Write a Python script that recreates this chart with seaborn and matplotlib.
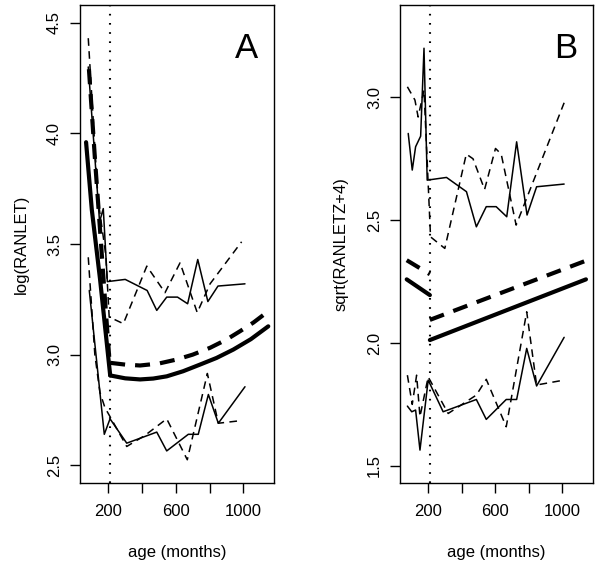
import matplotlib
matplotlib.use("Agg")
import matplotlib.pyplot as plt
import seaborn as sns

sns.set_style("ticks")
plt.rcParams["font.family"] = ["Liberation Sans", "DejaVu Sans"]
plt.rcParams.update({"text.color": "black", "axes.labelcolor": "black",
                     "xtick.color": "black", "ytick.color": "black"})

# ---------------- panel A : log(RANLET) ----------------
a_up_solid_x = [81, 148, 170, 194, 300, 430, 487, 546, 610, 670, 730, 790, 850, 1010]
a_up_solid_y = [4.30, 3.60, 3.66, 3.33, 3.34, 3.29, 3.20, 3.26, 3.26, 3.23, 3.43, 3.24, 3.31, 3.32]
a_up_dash_x = [81, 139, 185, 205, 289, 428, 536, 625, 727, 803, 990]
a_up_dash_y = [4.43, 3.70, 3.45, 3.17, 3.14, 3.40, 3.28, 3.415, 3.19, 3.32, 3.51]
a_lo_solid_x = [87, 176, 210, 309, 487, 546, 674, 733, 793, 852, 1010]
a_lo_solid_y = [3.29, 2.64, 2.71, 2.60, 2.65, 2.565, 2.64, 2.64, 2.82, 2.69, 2.855]
a_lo_dash_x = [81, 120, 150, 180, 210, 309, 417, 546, 668, 787, 852, 965]
a_lo_dash_y = [3.44, 3.00, 2.83, 2.76, 2.72, 2.585, 2.635, 2.71, 2.525, 2.915, 2.69, 2.70]

a_fit_solid_pre_x = [68, 102, 151, 211]
a_fit_solid_pre_y = [3.96, 3.655, 3.34, 2.906]
a_fit_solid_post_x = [211, 300, 388, 466, 546, 643, 743, 841, 941, 1045, 1148]
a_fit_solid_post_y = [2.906, 2.893, 2.888, 2.892, 2.902, 2.925, 2.955, 2.985, 3.023, 3.07, 3.128]
a_fit_dash_pre_x = [85, 121, 139, 180, 205]
a_fit_dash_pre_y = [4.29, 3.88, 3.69, 3.25, 2.99]
a_fit_dash_post_x = [211, 300, 388, 500, 605, 700, 803, 900, 981, 1060, 1148]
a_fit_dash_post_y = [2.963, 2.955, 2.951, 2.96, 2.978, 3.0, 3.031, 3.068, 3.106, 3.145, 3.196]

# ---------------- panel B : sqrt(RANLETZ+4) ----------------
b_up_solid_x = [81, 105, 125, 155, 175, 194, 309, 428, 487, 546, 605, 668, 727, 789, 846, 1010]
b_up_solid_y = [2.853, 2.704, 2.799, 2.842, 3.20, 2.663, 2.674, 2.616, 2.473, 2.555, 2.555,
                2.514, 2.819, 2.521, 2.636, 2.647]
b_up_dash_x = [76, 121, 140, 175, 190, 214, 299, 427, 467, 536, 601, 635, 724, 1010]
b_up_dash_y = [3.043, 2.989, 2.92, 3.03, 2.80, 2.432, 2.385, 2.769, 2.75, 2.625, 2.792, 2.769, 2.48, 2.978]
b_lo_solid_x = [76, 102, 125, 151, 200, 289, 487, 546, 665, 727, 787, 846, 1010]
b_lo_solid_y = [1.743, 1.72, 1.727, 1.564, 1.849, 1.72, 1.77, 1.689, 1.77, 1.77, 1.978, 1.825, 2.023]
b_lo_dash_x = [76, 105, 131, 151, 200, 319, 487, 546, 665, 787, 846, 1010]
b_lo_dash_y = [1.869, 1.75, 1.869, 1.70, 1.862, 1.713, 1.788, 1.852, 1.659, 2.127, 1.829, 1.849]

b_fit_solid_pre_x = [72, 210]
b_fit_solid_pre_y = [2.259, 2.195]
b_fit_solid_post_x = [210, 1140]
b_fit_solid_post_y = [2.012, 2.259]
b_fit_dash_pre_x = [72, 210]
b_fit_dash_pre_y = [2.337, 2.28]
b_fit_dash_post_x = [210, 1140]
b_fit_dash_post_y = [2.094, 2.335]

cutoff = 212

THIN_DASH = (0, (5, 3.5))
THICK_DASH = (0, (3.6, 2.4))


def draw(ax, x, y, lw, ls):
    sns.lineplot(x=x, y=y, ax=ax, color="black", linewidth=lw, linestyle=ls,
                 sort=False, estimator=None, legend=False)


fig = plt.figure(figsize=(6, 5.67), dpi=100)
axA = fig.add_axes([80 / 600, 1 - 483 / 567, 194 / 600, 478 / 567])
axB = fig.add_axes([400 / 600, 1 - 483 / 567, 193 / 600, 478 / 567])

# panel A
draw(axA, a_up_solid_x, a_up_solid_y, 1.1, "-")
draw(axA, a_up_dash_x, a_up_dash_y, 1.1, THIN_DASH)
draw(axA, a_lo_solid_x, a_lo_solid_y, 1.1, "-")
draw(axA, a_lo_dash_x, a_lo_dash_y, 1.1, THIN_DASH)
draw(axA, a_fit_solid_pre_x, a_fit_solid_pre_y, 3.0, "-")
draw(axA, a_fit_solid_post_x, a_fit_solid_post_y, 3.0, "-")
draw(axA, a_fit_dash_pre_x, a_fit_dash_pre_y, 3.0, THICK_DASH)
draw(axA, a_fit_dash_post_x, a_fit_dash_post_y, 3.0, THICK_DASH)

# panel B
draw(axB, b_up_solid_x, b_up_solid_y, 1.1, "-")
draw(axB, b_up_dash_x, b_up_dash_y, 1.1, THIN_DASH)
draw(axB, b_lo_solid_x, b_lo_solid_y, 1.1, "-")
draw(axB, b_lo_dash_x, b_lo_dash_y, 1.1, THIN_DASH)
draw(axB, b_fit_solid_pre_x, b_fit_solid_pre_y, 3.0, "-")
draw(axB, b_fit_solid_post_x, b_fit_solid_post_y, 3.0, "-")
draw(axB, b_fit_dash_pre_x, b_fit_dash_pre_y, 3.0, THICK_DASH)
draw(axB, b_fit_dash_post_x, b_fit_dash_post_y, 3.0, THICK_DASH)

for ax, ylim, yticks, ylabel, tag in [
    (axA, (2.42, 4.58), [2.5, 3.0, 3.5, 4.0, 4.5], "log(RANLET)", "A"),
    (axB, (1.43, 3.376), [1.5, 2.0, 2.5, 3.0], "sqrt(RANLETZ+4)", "B"),
]:
    ax.axvline(cutoff, color="black", lw=1.5, linestyle=(0, (0.8, 3.6)))
    ax.set_xlim(32, 1182)
    ax.set_ylim(*ylim)
    ax.set_xticks([200, 400, 600, 800, 1000])
    ax.set_xticklabels(["200", "", "600", "", "1000"])
    ax.set_yticks(yticks)
    ax.set_yticklabels([f"{v:.1f}" for v in yticks], rotation=90, va="center")
    ax.tick_params(direction="out", length=7, width=1, labelsize=12, pad=6)
    ax.tick_params(axis="x", pad=8)
    ax.set_xlabel("age (months)", fontsize=12, labelpad=19)
    ax.set_ylabel(ylabel, fontsize=12, labelpad=13)
    for s in ax.spines.values():
        s.set_visible(True)
        s.set_linewidth(1.0)
        s.set_color("black")
    ax.text(0.86, 0.91, tag, transform=ax.transAxes, fontsize=25,
            ha="center", va="center")

fig.savefig("out.png", dpi=100)
